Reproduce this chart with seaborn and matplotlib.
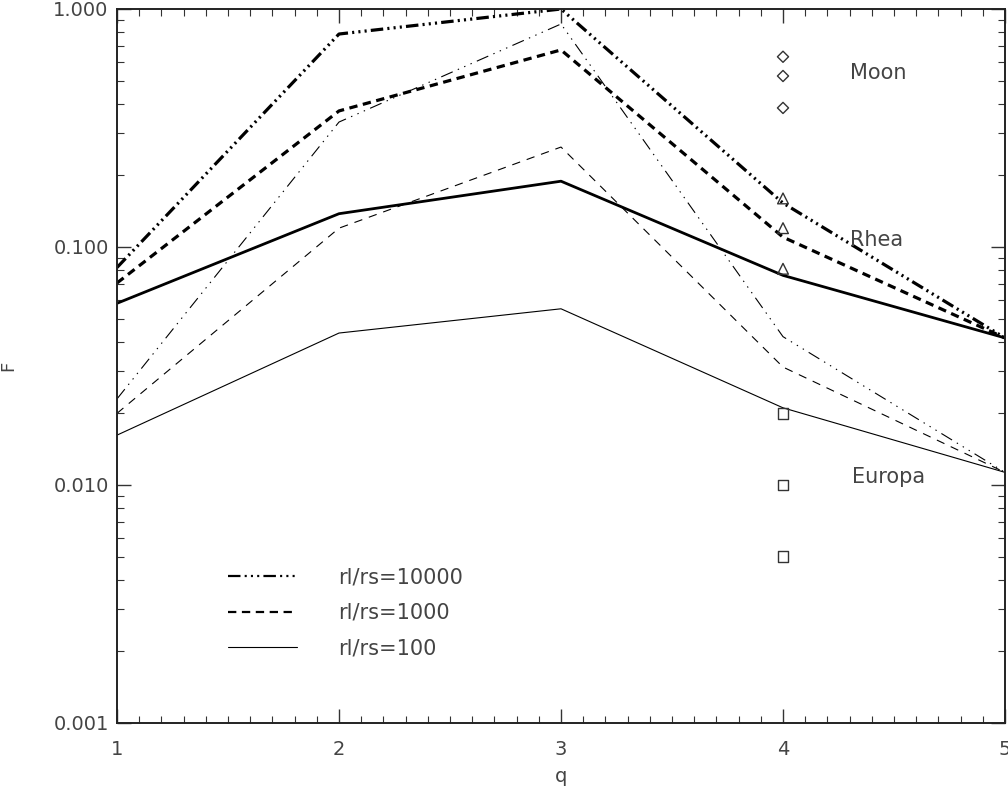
import numpy as np
import pandas as pd
import matplotlib
matplotlib.use("Agg")
import matplotlib.pyplot as plt
import seaborn as sns
from matplotlib.lines import Line2D
from matplotlib.ticker import MultipleLocator, LogLocator, NullFormatter, FormatStrFormatter

# data
q = [1, 2, 3, 4, 5]
thick_10000 = [0.082, 0.785, 1.0, 0.153, 0.0415]
thick_1000 = [0.0706, 0.373, 0.673, 0.110, 0.0415]
thick_100 = [0.058, 0.138, 0.189, 0.076, 0.0415]
thin_10000 = [0.023, 0.335, 0.865, 0.042, 0.0113]
thin_1000 = [0.020, 0.120, 0.263, 0.0313, 0.0113]
thin_100 = [0.0162, 0.0435, 0.055, 0.0211, 0.0113]

moon_F = [0.63, 0.523, 0.384]
rhea_F = [0.16, 0.12, 0.081]
europa_F = [0.020, 0.010, 0.005]
body_q = 4

legend_labels = ["rl/rs=10000", "rl/rs=1000", "rl/rs=100"]

sns.set_theme(style="ticks")
plt.rcParams["font.family"] = ["DejaVu Sans"]
plt.rcParams["lines.scale_dashes"] = False

fig = plt.figure(figsize=(10.08, 7.9), dpi=100)
ax = fig.add_axes([117 / 1008, 1 - 723 / 790, 888 / 1008, 714 / 790])

dash3 = (0, (9, 3, 1.5, 3, 1.5, 3, 1.5, 3))
dashed = (0, (6, 4))
thin_dash3 = (0, (9, 4, 1, 4, 1, 4, 1, 4))
thin_dashed = (0, (6, 5))

series = [
    (thick_10000, 2.3, dash3),
    (thick_1000, 2.3, dashed),
    (thick_100, 2.0, "-"),
    (thin_10000, 0.8, thin_dash3),
    (thin_1000, 0.8, thin_dashed),
    (thin_100, 0.8, "-"),
]
for vals, lw, ls in series:
    df = pd.DataFrame({"q": q, "F": vals})
    sns.lineplot(data=df, x="q", y="F", ax=ax, color="black", lw=lw, linestyle=ls)

# moon / rhea / europa points
for vals, mk, sz in [(moon_F, "D", 32), (rhea_F, "^", 60), (europa_F, "s", 60)]:
    pts = pd.DataFrame({"q": [body_q] * len(vals), "F": vals})
    sns.scatterplot(data=pts, x="q", y="F", ax=ax, marker=mk, s=sz,
                    facecolor="none", edgecolor="#333333", linewidth=1.0, zorder=5)

txt_kw = dict(fontsize=15, color="#444444", va="center", ha="left")
ax.text(4.30, 0.54, "Moon", **txt_kw)
ax.text(4.30, 0.107, "Rhea", **txt_kw)
ax.text(4.31, 0.0108, "Europa", **txt_kw)

ax.set_yscale("log")
ax.set_xlim(1, 5)
ax.set_ylim(0.001, 1.0)
ax.xaxis.set_major_locator(MultipleLocator(1))
ax.xaxis.set_minor_locator(MultipleLocator(0.1))
ax.yaxis.set_major_locator(LogLocator(base=10))
ax.yaxis.set_minor_locator(LogLocator(base=10, subs=np.arange(2, 10)))
ax.yaxis.set_major_formatter(FormatStrFormatter("%.3f"))
ax.yaxis.set_minor_formatter(NullFormatter())

ax.tick_params(which="both", direction="in", top=True, right=True, color="#333333")
ax.tick_params(which="major", length=10, width=1.0, labelsize=14, labelcolor="#444444")
ax.tick_params(which="minor", length=5, width=0.8)
ax.tick_params(axis="x", which="major", pad=12)
ax.tick_params(axis="y", which="major", pad=6)

for sp in ax.spines.values():
    sp.set_visible(True)
    sp.set_linewidth(1.4)
    sp.set_color("#222222")

ax.set_xlabel("q", fontsize=14, color="#444444", labelpad=6)
ax.set_ylabel("F", fontsize=13, color="#444444", labelpad=26)

handles = [
    Line2D([], [], color="black", lw=1.6, linestyle=dash3),
    Line2D([], [], color="black", lw=1.6, linestyle=dashed),
    Line2D([], [], color="black", lw=0.8, linestyle="-"),
]
ax.legend(handles, legend_labels, loc="upper left", bbox_to_anchor=(0.125, 0.218),
          frameon=False, fontsize=15, handlelength=3.3, handletextpad=2.0,
          labelspacing=0.75, borderpad=0, borderaxespad=0, labelcolor="#444444")

fig.savefig("out.png", dpi=100)
